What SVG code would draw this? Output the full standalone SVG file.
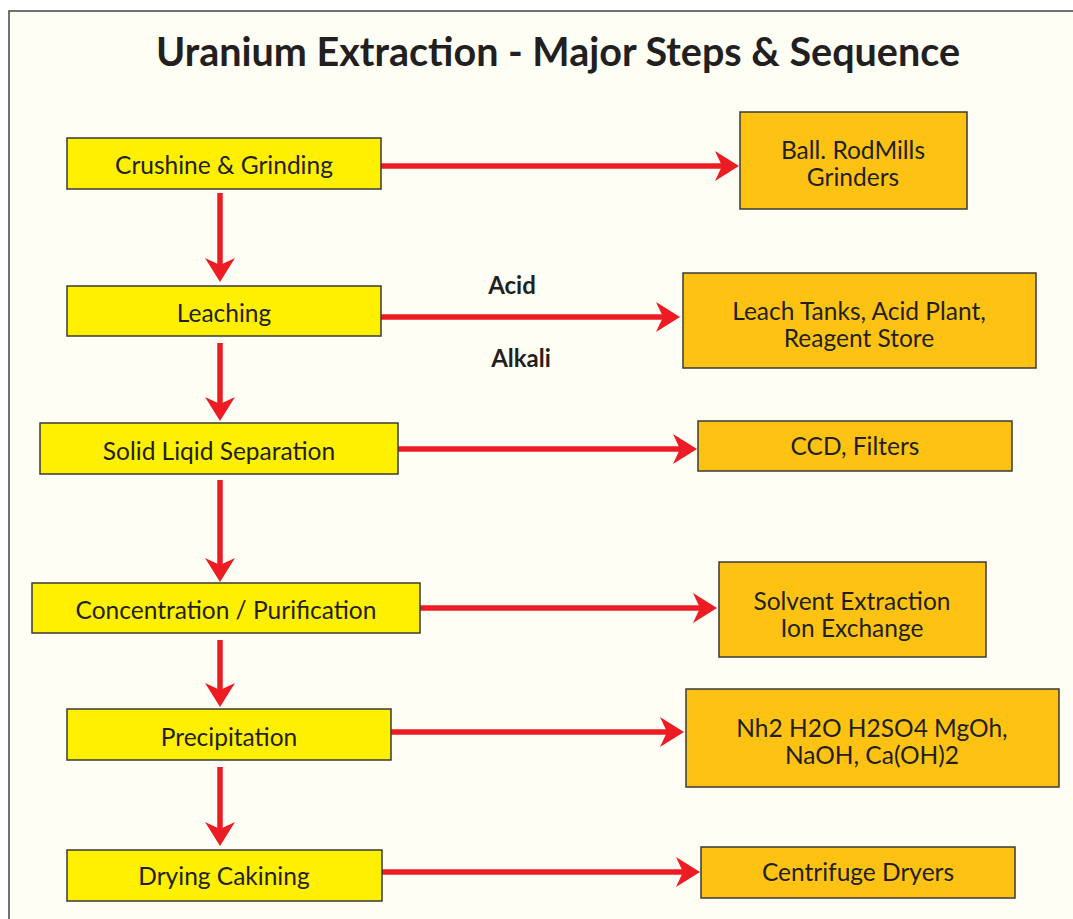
<svg xmlns="http://www.w3.org/2000/svg" width="1073" height="919" viewBox="0 0 1073 919">
<style>
.step{fill:#FFF000;stroke:#3a3a3a;stroke-width:1.5}
.res{fill:#FEC312;stroke:#3a3a3a;stroke-width:1.5}
.t{font-family:Lato,"Open Sans","Liberation Sans",sans-serif;font-size:24.5px;fill:#231F20;text-anchor:middle}
.lbl{font-family:Lato,"Open Sans","Liberation Sans",sans-serif;font-size:24px;font-weight:bold;fill:#231F20;text-anchor:middle}
.title{font-family:Lato,"Open Sans","Liberation Sans",sans-serif;font-size:39.5px;font-weight:bold;fill:#231F20;text-anchor:middle}
.c{stroke:#ED1C24;stroke-width:5.5;fill:none;marker-end:url(#ah)}
</style>
<defs>
<marker id="ah" markerUnits="userSpaceOnUse" viewBox="-15 -16 26 32" markerWidth="26" markerHeight="32" refX="0" refY="0" orient="auto">
<path d="M10,0 L-14,-15 L-7,0 L-14,15 Z" fill="#ED1C24"/>
</marker>
</defs>
<rect x="0" y="0" width="1073" height="919" fill="#FFFFFF"/>
<rect x="9" y="11" width="1090" height="930" fill="#FFFEF5" stroke="#444" stroke-width="1.5"/>
<text class="title" x="558" y="66">Uranium Extraction - Major Steps &amp; Sequence</text>

<g id="connectors">
<line class="c" x1="381" y1="166" x2="729" y2="166"/>
<line class="c" x1="381" y1="317" x2="670" y2="317"/>
<line class="c" x1="398" y1="449" x2="687" y2="449"/>
<line class="c" x1="420" y1="608" x2="707" y2="608"/>
<line class="c" x1="391" y1="732" x2="674" y2="732"/>
<line class="c" x1="381" y1="872" x2="690" y2="872"/>
<line class="c" x1="220" y1="193" x2="220" y2="272"/>
<line class="c" x1="220" y1="343" x2="220" y2="411"/>
<line class="c" x1="220" y1="480" x2="220" y2="572"/>
<line class="c" x1="220" y1="640" x2="220" y2="697"/>
<line class="c" x1="220" y1="767" x2="220" y2="836"/>
<text class="lbl" x="512" y="294">Acid</text>
<text class="lbl" x="521" y="367">Alkali</text>
</g>

<g id="n1"><rect class="step" x="67" y="138" width="314" height="51"/><text class="t" x="224" y="174">Crushine &amp; Grinding</text></g>
<g id="n2"><rect class="step" x="67" y="286" width="314" height="50"/><text class="t" x="224" y="322">Leaching</text></g>
<g id="n3"><rect class="step" x="40" y="423" width="358" height="51"/><text class="t" x="219" y="460">Solid Liqid Separation</text></g>
<g id="n4"><rect class="step" x="32" y="583" width="388" height="50"/><text class="t" x="226" y="619">Concentration / Purification</text></g>
<g id="n5"><rect class="step" x="67" y="709" width="324" height="51"/><text class="t" x="229" y="746">Precipitation</text></g>
<g id="n6"><rect class="step" x="67" y="850" width="315" height="51"/><text class="t" x="224" y="885">Drying Cakining</text></g>

<g id="r1"><rect class="res" x="740" y="112" width="227" height="97"/><text class="t" x="853" y="159">Ball. RodMills</text><text class="t" x="853" y="186">Grinders</text></g>
<g id="r2"><rect class="res" x="683" y="273" width="353" height="95"/><text class="t" x="859" y="320">Leach Tanks, Acid Plant,</text><text class="t" x="859" y="347">Reagent Store</text></g>
<g id="r3"><rect class="res" x="698" y="421" width="314" height="50"/><text class="t" x="855" y="455">CCD, Filters</text></g>
<g id="r4"><rect class="res" x="719" y="562" width="267" height="95"/><text class="t" x="852" y="610">Solvent Extraction</text><text class="t" x="852" y="637">Ion Exchange</text></g>
<g id="r5"><rect class="res" x="686" y="689" width="373" height="98"/><text class="t" x="872" y="737">Nh2 H2O H2SO4 MgOh,</text><text class="t" x="872" y="764">NaOH, Ca(OH)2</text></g>
<g id="r6"><rect class="res" x="701" y="847" width="314" height="51"/><text class="t" x="858" y="881">Centrifuge Dryers</text></g>
</svg>
